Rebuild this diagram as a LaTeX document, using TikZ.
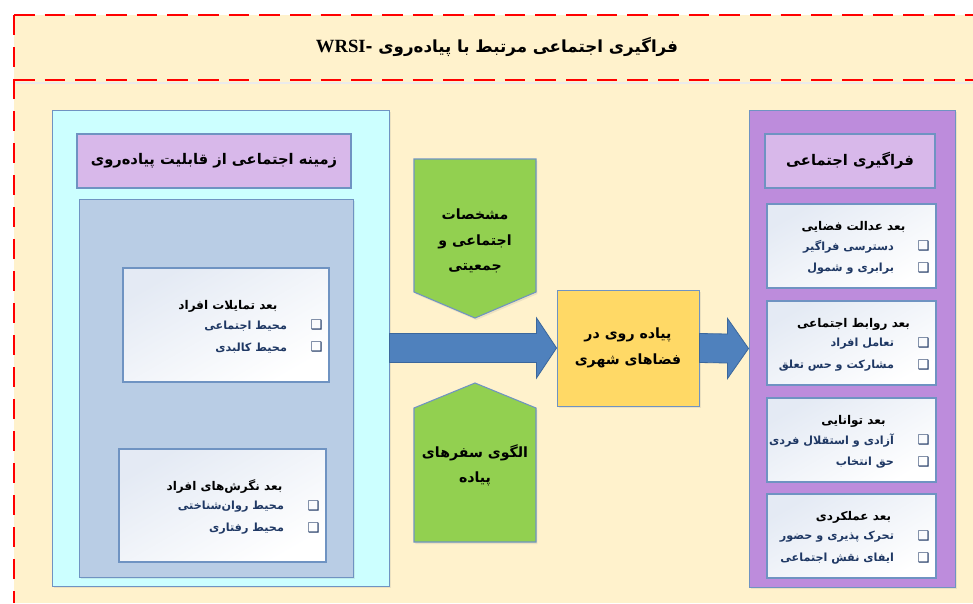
\documentclass[tikz,border=0pt]{standalone}
\usepackage{fontspec}
\setmainfont{DejaVu Sans}
\newfontfamily\fafont[Script=Arabic]{DejaVu Sans}
\newfontfamily\latfont{Liberation Serif}
\TeXXeTstate=1
\usetikzlibrary{calc,shadows}

\definecolor{beige}{HTML}{FFF2CC}
\definecolor{redline}{HTML}{FF0000}
\definecolor{cyanpanel}{HTML}{CCFFFF}
\definecolor{greypanel}{HTML}{B9CDE5}
\definecolor{lilac}{HTML}{D8B8EA}
\definecolor{violet}{HTML}{BD8CDC}
\definecolor{edge}{HTML}{6F93C2}
\definecolor{arrowblue}{HTML}{4F81BD}
\definecolor{arrowedge}{HTML}{3B679C}
\definecolor{leaf}{HTML}{92D050}
\definecolor{sun}{HTML}{FFD966}
\definecolor{navy}{HTML}{1F3864}
\definecolor{boxgrad}{HTML}{E4EAF4}

\newcommand{\fa}[1]{{\fafont\bfseries\beginR #1\endR}}

\tikzset{
  px/.style={minimum width=#1*0.75pt},
  dashframe/.style={draw=redline, line width=1.3pt, dash pattern=on 15.5pt off 7.5pt},
  panel/.style={draw=edge, line width=0.7pt, inner sep=0pt, drop shadow={shadow xshift=1.5pt, shadow yshift=-1.5pt, opacity=0.15}},
  dimbox/.style={draw=edge, line width=1pt, top color=boxgrad, bottom color=white, shading angle=30, inner sep=0pt},
  dimtitle/.style={font=\fontsize{9}{11}\selectfont},
  dimitem/.style={anchor=east, text=navy, font=\fontsize{8.4}{10}\selectfont},
  tick/.style={text=navy, font=\fontsize{10}{10}\selectfont, inner sep=0pt},
  blockarrow/.style={fill=arrowblue, draw=arrowedge, line width=0.6pt},
  pentagon/.style={fill=leaf, draw=edge, line width=0.8pt, drop shadow={shadow xshift=1pt, shadow yshift=-1.5pt, opacity=0.15}},
  bigtext/.style={align=center, font=\fontsize{10.6}{19}\selectfont}
}

\begin{document}
\begin{tikzpicture}[x=0.75pt, y=-0.75pt]
  \useasboundingbox (0,0) rectangle (973,603);
  %% background and red frame
  \fill[beige] (14,15) rectangle (973,603);
  \fill[black!8] (14,81.5) rectangle (973,84);
  \node[font=\fontsize{12.5}{14}\selectfont] (title) at (497,47)
    {\fa{فراگیری اجتماعی مرتبط با پیاده‌روی -\beginL{\latfont\bfseries\fontsize{14}{14}\selectfont WRSI}\endL}};

  %% left panel
  \node[panel, fill=cyanpanel, px=337, minimum height=476*0.75pt] (ctx) at (220.5,348) {};
  \node[draw=edge, line width=0.8pt, fill=lilac, px=274, minimum height=54*0.75pt,
        font=\fontsize{11}{14}\selectfont] (ctxhead) at (214,161) {\fa{زمینه اجتماعی از قابلیت پیاده‌روی}};
  \node[panel, fill=greypanel, px=274, minimum height=378*0.75pt] (ctxbody) at (216,388) {};

  %% right panel
  \node[panel, fill=violet, px=206, minimum height=477*0.75pt] (res) at (852,348.5) {};
  \node[draw=edge, line width=0.8pt, fill=lilac, px=170, minimum height=54*0.75pt,
        font=\fontsize{11}{14}\selectfont] (reshead) at (850,161) {\fa{فراگیری اجتماعی}};

  %% dimension boxes
  \foreach \n/\cx/\cy/\w/\h/\t/\a/\b in {
      wish/226/325/206/114/بعد تمایلات افراد/محیط اجتماعی/محیط کالبدی,
      view/222.5/505.5/207/113/بعد نگرش‌های افراد/محیط روان‌شناختی/محیط رفتاری,
      just/851.5/246/169/84/بعد عدالت فضایی/دسترسی فراگیر/برابری و شمول,
      bond/851.5/343/169/84/بعد روابط اجتماعی/تعامل افراد/مشارکت و حس تعلق,
      able/851.5/440/169/84/بعد توانایی/آزادی و استقلال فردی/حق انتخاب,
      role/851.5/536/169/84/بعد عملکردی/تحرک پذیری و حضور/ایفای نقش اجتماعی} {
    \node[dimbox, px=\w, minimum height=\h*0.75pt] (\n) at (\cx,\cy) {};
    \node[dimtitle] (\n-t) at ($(\n.center)+(2,-19)$) {\fa{\t}};
    \node[dimitem] (\n-a) at ($(\n.east)+(-38,1)$) {\fa{\a}};
    \node[dimitem] (\n-b) at ($(\n.east)+(-38,23)$) {\fa{\b}};
    \node[tick] (\n-ta) at ($(\n.east)+(-13,0)$) {❑};
    \node[tick] (\n-tb) at ($(\n.east)+(-13,22)$) {❑};
  }

  %% middle
  \node[panel, fill=sun, px=142, minimum height=116*0.75pt, bigtext] (walk) at (628,348)
    {\fa{پیاده روی در}\\\fa{فضاهای شهری}};
  \draw[pentagon] (414,159) -- (536,159) -- (536,292) -- (475,318) -- (414,292) -- cycle;
  \node[bigtext] (demog) at (475,241) {\fa{مشخصات}\\\fa{اجتماعی و}\\\fa{جمعیتی}};
  \draw[pentagon] (475,383) -- (536,408) -- (536,542) -- (414,542) -- (414,408) -- cycle;
  \node[bigtext] (travel) at (475,465) {\fa{الگوی سفرهای}\\\fa{پیاده}};

  %% arrows
  \draw[blockarrow] ($(ctx.east)+(0,-14.5)$) -- ($(walk.west)+(-20,-14.5)$) -- ($(walk.west)+(-20,-30)$)
    -- (walk.west) -- ($(walk.west)+(-20,30)$) -- ($(walk.west)+(-20,14.5)$) -- ($(ctx.east)+(0,14.5)$) -- cycle;
  \draw[blockarrow] ($(walk.east)+(0,-14.5)$) -- ($(res.west)+(-21,-14.5)$) -- ($(res.west)+(-21,-30)$)
    -- (res.west) -- ($(res.west)+(-21,30)$) -- ($(res.west)+(-21,14.5)$) -- ($(walk.east)+(0,14.5)$) -- cycle;

  %% red dashed frame on top
  \draw[dashframe] (14,15) -- (973,15);
  \draw[dashframe] (14,80) -- (973,80);
  \draw[dashframe, dash pattern=on 15pt off 9pt] (14,15) -- (14,603);
\end{tikzpicture}
\end{document}
